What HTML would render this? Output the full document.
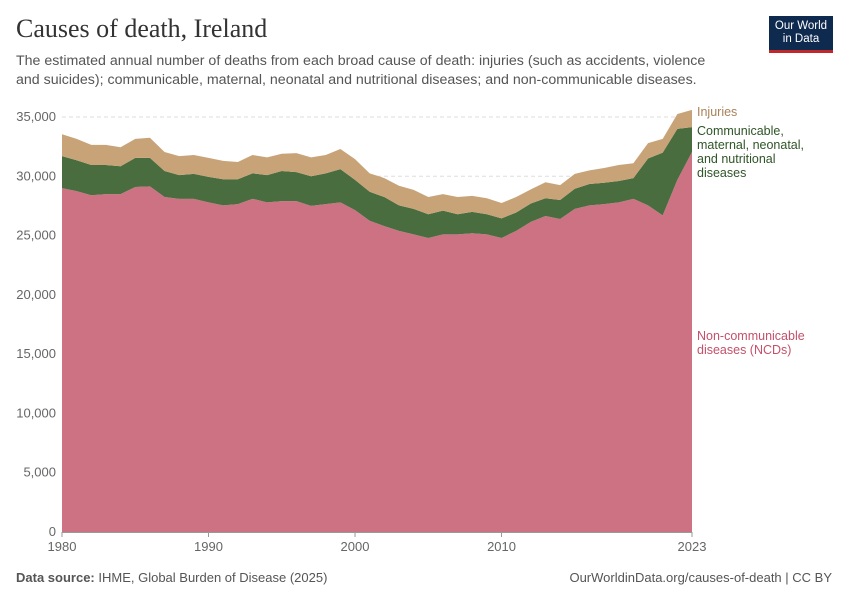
<!DOCTYPE html>
<html><head><meta charset="utf-8"><style>
body{margin:0;background:#fff;font-family:"Liberation Sans",sans-serif;}
#wrap{position:relative;width:850px;height:600px;overflow:hidden;}
.t{position:absolute;white-space:nowrap;}
</style></head><body>
<div id="wrap">
<div class="t" style="left:16px;top:14px;font-family:'Liberation Serif',serif;font-size:26px;color:#333;">Causes of death, Ireland</div>
<div class="t" style="left:16px;top:52px;font-size:14.2px;line-height:19px;color:#555;">The estimated annual number of deaths from each broad cause of death: injuries (such as accidents, violence<br>and suicides); communicable, maternal, neonatal and nutritional diseases; and non-communicable diseases.</div>
<div style="position:absolute;left:769px;top:16px;width:64px;background:#0f2a4f;border-bottom:3px solid #c0282c;color:#fff;font-size:11.5px;line-height:13px;text-align:center;padding-top:4px;box-sizing:border-box;height:37px;">Our World<br>in Data</div>
<svg id="chart" width="850" height="600" style="position:absolute;left:0;top:0;"></svg>
<div class="t" style="left:16px;top:570px;font-size:13px;color:#555;"><b>Data source:</b> IHME, Global Burden of Disease (2025)</div>
<div class="t" style="right:18px;top:570px;font-size:13px;color:#555;">OurWorldinData.org/causes-of-death | CC BY</div>
</div>
<script>
const years=[1980,1981,1982,1983,1984,1985,1986,1987,1988,1989,1990,1991,1992,1993,1994,1995,1996,1997,1998,1999,2000,2001,2002,2003,2004,2005,2006,2007,2008,2009,2010,2011,2012,2013,2014,2015,2016,2017,2018,2019,2020,2021,2022,2023];
const ncd=[29000,28750,28400,28500,28500,29100,29150,28250,28100,28100,27800,27550,27650,28100,27800,27900,27900,27500,27650,27800,27150,26250,25800,25400,25100,24800,25100,25100,25200,25100,24800,25400,26150,26650,26400,27250,27550,27650,27800,28100,27550,26700,29700,32050];
const cmnn=[2700,2600,2550,2450,2350,2450,2400,2200,2000,2100,2150,2200,2100,2150,2300,2550,2450,2500,2600,2800,2550,2450,2450,2150,2150,2000,2000,1700,1800,1700,1650,1550,1550,1500,1600,1700,1800,1800,1800,1750,3950,5300,4300,2100];
const injuries=[1850,1800,1700,1700,1600,1600,1700,1600,1600,1600,1600,1550,1450,1550,1500,1450,1600,1600,1550,1700,1750,1550,1600,1650,1600,1450,1400,1450,1350,1350,1300,1300,1200,1350,1250,1250,1150,1250,1350,1250,1300,1150,1250,1450];
const yTicks=[0,5000,10000,15000,20000,25000,30000,35000];
const xTicks=[1980,1990,2000,2010,2023];
const NS='http://www.w3.org/2000/svg';
const svg=document.getElementById('chart');
const x=v=>62+(v-1980)*(692-62)/43;
const y=v=>532-v*415/35000;
function mk(t,a){const e=document.createElementNS(NS,t);for(const k in a)e.setAttribute(k,a[k]);svg.appendChild(e);return e;}
yTicks.forEach(v=>{
  if(v>0){const l=mk('line',{x1:62,x2:692,y1:y(v),y2:y(v),stroke:'#ddd','stroke-dasharray':'4,3'});
  
  }
  const t=mk('text',{x:56,y:y(v)+4,'text-anchor':'end','font-size':13,fill:'#666','font-family':'Liberation Sans'});
  t.textContent=v.toLocaleString('en-US');
  
  
});
const series=[{d:ncd,c:'#cc7283',n:'area-ncd'},{d:cmnn,c:'#4a6d40',n:'area-cmnn'},{d:injuries,c:'#c8a378',n:'area-injuries'}];
let base=years.map(()=>0);
series.forEach(s=>{
  const top=base.map((b,i)=>b+s.d[i]);
  let p=years.map((yr,i)=>(i?'L':'M')+x(yr)+','+y(top[i])).join('');
  for(let i=years.length-1;i>=0;i--)p+='L'+x(years[i])+','+y(base[i]);
  const e=mk('path',{d:p+'Z',fill:s.c});
  
  
  base=top;
});
const ax=mk('line',{x1:62,x2:692,y1:532.5,y2:532.5,stroke:'#999'});


xTicks.forEach(v=>{
  const tk=mk('line',{x1:x(v),x2:x(v),y1:532,y2:537,stroke:'#999'});
  
  
  const t=mk('text',{x:x(v),y:551,'text-anchor':'middle','font-size':13,fill:'#666','font-family':'Liberation Sans'});
  t.textContent=v;
  
  
});
const legends=[{lines:['Injuries'],c:'#a9825a',y:116,n:'legend-injuries'},{lines:['Communicable,','maternal, neonatal,','and nutritional','diseases'],c:'#2f5527',y:135,n:'legend-cmnn'},{lines:['Non-communicable','diseases (NCDs)'],c:'#c4506a',y:340,n:'legend-ncd'}];
legends.forEach(l=>{
  const t=mk('text',{x:697,y:l.y,'font-size':12.5,fill:l.c,'font-family':'Liberation Sans'});
  l.lines.forEach((s,i)=>{const ts=document.createElementNS(NS,'tspan');ts.setAttribute('x',697);ts.setAttribute('dy',i?14:0);ts.textContent=s;t.appendChild(ts);});
  
  
});
</script>
</body></html>
